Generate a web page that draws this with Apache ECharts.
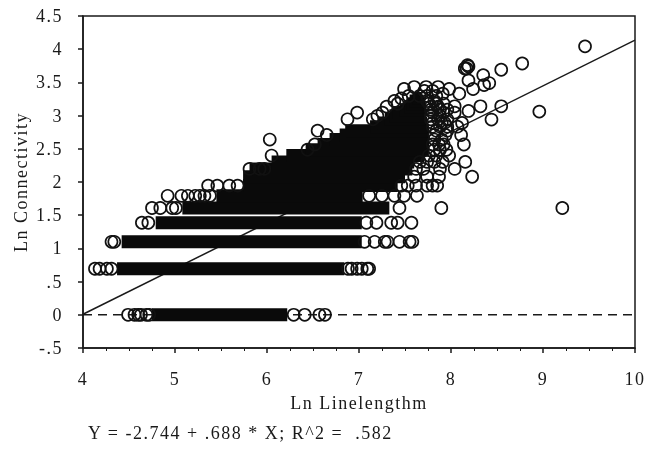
<!DOCTYPE html>
<html>
<head>
<meta charset="utf-8">
<style>
html,body{margin:0;padding:0;background:#fff}
#chart{width:647px;height:452px;filter:blur(0.4px)}
#chart text{letter-spacing:1.5px}
</style>
<script src="https://cdn.jsdelivr.net/npm/echarts@6/dist/echarts.min.js"></script>
</head>
<body>
<div id="chart"></div>
<script>
var xTicks = ['4','5','6','7','8','9','10'];
var yTickLabels = {'-0.5':'-.5','0':'0','0.5':'.5','1':'1','1.5':'1.5','2':'2','2.5':'2.5','3':'3','3.5':'3.5','4':'4','4.5':'4.5'};
var xName = 'Ln Linelengthm';
var yName = 'Ln Connectivity';
var equation = 'Y = -2.744 + .688 * X; R^2 =  .582';

// Solid runs where the overplotted circles merge: [level, xStart, xEnd]
var denseRuns = [
 [0,4.75,6.22],[0.693,4.37,6.84],[1.099,4.42,7.03],[1.386,4.79,7.03],
 [1.609,5.08,7.33],[1.792,5.45,7.04],[1.946,5.74,7.42],[2.079,5.74,7.50],
 [2.197,5.81,7.58],[2.303,6.05,7.60],[2.398,6.21,7.71],[2.485,6.42,7.76],
 [2.565,6.55,7.74],[2.639,6.68,7.76],[2.708,6.79,7.76],[2.773,6.85,7.76],
 [2.833,7.12,7.74],[2.89,7.20,7.74],[2.944,7.28,7.72],[2.996,7.33,7.72],
 [3.045,7.36,7.72],[3.09,7.44,7.72],[3.135,7.49,7.72],[3.178,7.52,7.72],
 [3.22,7.55,7.70],[3.258,7.58,7.68]
];

// Individually visible circles, row ends
var rowEndPoints = [
 [4.49,0],[4.56,0],[4.60,0],[4.63,0],[4.69,0],[4.72,0],[6.29,0],[6.41,0],[6.57,0],[6.63,0],
 [4.13,0.693],[4.18,0.693],[4.26,0.693],[4.31,0.693],[6.88,0.693],[6.92,0.693],[6.98,0.693],[7.03,0.693],[7.09,0.693],[7.11,0.693],
 [4.31,1.099],[4.34,1.099],[7.06,1.099],[7.17,1.099],[7.28,1.099],[7.31,1.099],[7.44,1.099],[7.55,1.099],[7.58,1.099],
 [4.64,1.386],[4.71,1.386],[7.08,1.386],[7.19,1.386],[7.35,1.386],[7.42,1.386],[7.57,1.386],
 [4.75,1.609],[4.84,1.609],[4.97,1.609],[5.01,1.609],[7.44,1.609],[7.895,1.609],
 [4.92,1.792],[5.07,1.792],[5.14,1.792],[5.22,1.792],[5.27,1.792],[5.32,1.792],[5.38,1.792],[7.11,1.792],[7.25,1.792],[7.385,1.792],[7.49,1.792],[7.63,1.792],
 [5.36,1.946],[5.46,1.946],[5.59,1.946],[5.68,1.946],[7.46,1.946],[7.53,1.946],[7.62,1.946],[7.74,1.946],[7.80,1.946],[7.85,1.946],
 [7.60,2.079],[7.74,2.079],[7.87,2.079]
];

// Circles along the upper edge of the cloud and outliers
var outlierPoints = [
 [9.457,4.043],[8.774,3.784],[8.546,3.69],[8.15,3.71],[8.18,3.76],[8.17,3.71],[8.19,3.74],
 [8.35,3.61],[8.416,3.49],[8.36,3.46],[8.19,3.53],[8.24,3.40],[8.09,3.33],[8.32,3.14],[8.546,3.14],
 [8.96,3.06],[8.44,2.94],[8.19,3.07],[9.21,1.609],[8.23,2.079],[8.04,2.197],[7.88,2.197],
 [8.155,2.303],[7.82,2.303],[7.98,2.398],[7.95,2.485],[8.14,2.565],[8.11,2.708],[8.12,2.89],
 [8.07,2.833],[8.04,3.045],[7.96,2.944],[7.86,3.43],[7.73,3.43],[7.60,3.43],[7.49,3.40],
 [7.385,3.22],[7.255,3.045],[6.98,3.045],[6.875,2.944],[7.15,2.944],[6.55,2.773],
 [6.44,2.485],[6.52,2.565],[6.65,2.708],[6.03,2.639],[6.05,2.398],[5.81,2.197],[5.92,2.197],[5.97,2.197],
 [7.98,3.40],[8.04,3.14],[7.91,3.33],[7.80,3.37],[7.71,3.37],[7.93,2.89],[7.91,2.303],[7.87,2.565]
];

// Overlapping circles on the right flank of the cloud
var flankPoints = [
 [7.62,2.197],[7.70,2.197],[7.66,2.303],[7.74,2.303],[7.76,2.398],[7.84,2.398],[7.82,2.485],[7.88,2.485],
 [7.80,2.565],[7.92,2.565],[7.82,2.639],[7.90,2.639],[7.82,2.708],[7.94,2.708],[7.84,2.773],[7.96,2.773],
 [7.80,2.833],[7.88,2.833],[7.96,2.833],[7.80,2.89],[7.90,2.89],[7.78,2.944],[7.86,2.944],
 [7.78,2.996],[7.88,2.996],[7.80,3.045],[7.92,3.045],[7.78,3.09],[7.88,3.09],[7.96,3.09],
 [7.78,3.135],[7.86,3.135],[7.76,3.178],[7.84,3.178],[7.92,3.178],[7.74,3.22],[7.82,3.22],
 [7.66,3.296],[7.74,3.296],[7.84,3.296],[7.54,3.296],[7.46,3.258],[7.30,3.135],[7.42,3.178],[7.20,2.996]
];

var fitX = [4, 10];
var fitY = [0.008, 4.136];
var zeroLine = [[4,0],[10,0]];

var serif = '"Liberation Serif", serif';
var ink = '#1a1a1a';
var circleStyle = {color:'transparent',borderColor:'#111',borderWidth:1.7,opacity:1};
var chart = echarts.init(document.getElementById('chart'), null, {renderer:'svg'});
chart.setOption({
  animation:false,
  backgroundColor:'#fff',
  title:{text:equation,left:83,top:419,textStyle:{fontFamily:serif,fontSize:18,fontWeight:'normal',color:ink}},
  grid:{left:83,right:11,top:16,bottom:104,show:true,borderColor:ink,borderWidth:1.5,backgroundColor:'transparent'},
  xAxis:{type:'value',min:4,max:10,interval:1,name:xName,nameLocation:'middle',nameGap:46,
    nameTextStyle:{fontFamily:serif,fontSize:18,color:ink},
    axisLine:{onZero:false,lineStyle:{color:ink,width:1.5}},axisTick:{length:5,lineStyle:{color:ink,width:1.5}},
    minorTick:{show:true,splitNumber:4,length:3,lineStyle:{color:ink}},
    splitLine:{show:false},minorSplitLine:{show:false},
    axisLabel:{fontFamily:serif,fontSize:18,color:ink,margin:22,formatter:function(v){return xTicks[v-4]}}},
  yAxis:{type:'value',min:-0.5,max:4.5,interval:0.5,name:yName,nameLocation:'middle',nameGap:52,
    nameTextStyle:{fontFamily:serif,fontSize:18,color:ink},
    axisLine:{onZero:false,lineStyle:{color:ink,width:1.5}},axisTick:{length:5,lineStyle:{color:ink,width:1.5}},
    splitLine:{show:false},
    axisLabel:{fontFamily:serif,fontSize:18,color:ink,margin:20,formatter:function(v){return yTickLabels[String(v)]}}},
  series:[
    {type:'line',data:zeroLine,symbol:'none',z:1,lineStyle:{color:ink,width:1.5,type:[9,6]}},
    {type:'line',data:[[fitX[0],fitY[0]],[fitX[1],fitY[1]]],symbol:'none',z:1,lineStyle:{color:ink,width:1.5}},
    {type:'custom',z:3,clip:true,data:denseRuns,
      encode:{x:[1,2],y:0},
      renderItem:function(p,api){
        var a=api.coord([api.value(1),api.value(0)]);
        var b=api.coord([api.value(2),api.value(0)]);
        return {type:'rect',shape:{x:a[0],y:a[1]-6.5,width:b[0]-a[0],height:13},style:{fill:'#0a0a0a'}};
      }},
    {type:'scatter',z:4,data:rowEndPoints,symbol:'circle',symbolSize:12,itemStyle:circleStyle},
    {type:'scatter',z:4,data:outlierPoints,symbol:'circle',symbolSize:12,itemStyle:circleStyle},
    {type:'scatter',z:4,data:flankPoints,symbol:'circle',symbolSize:12,itemStyle:circleStyle}
  ]
});
</script>
</body>
</html>
